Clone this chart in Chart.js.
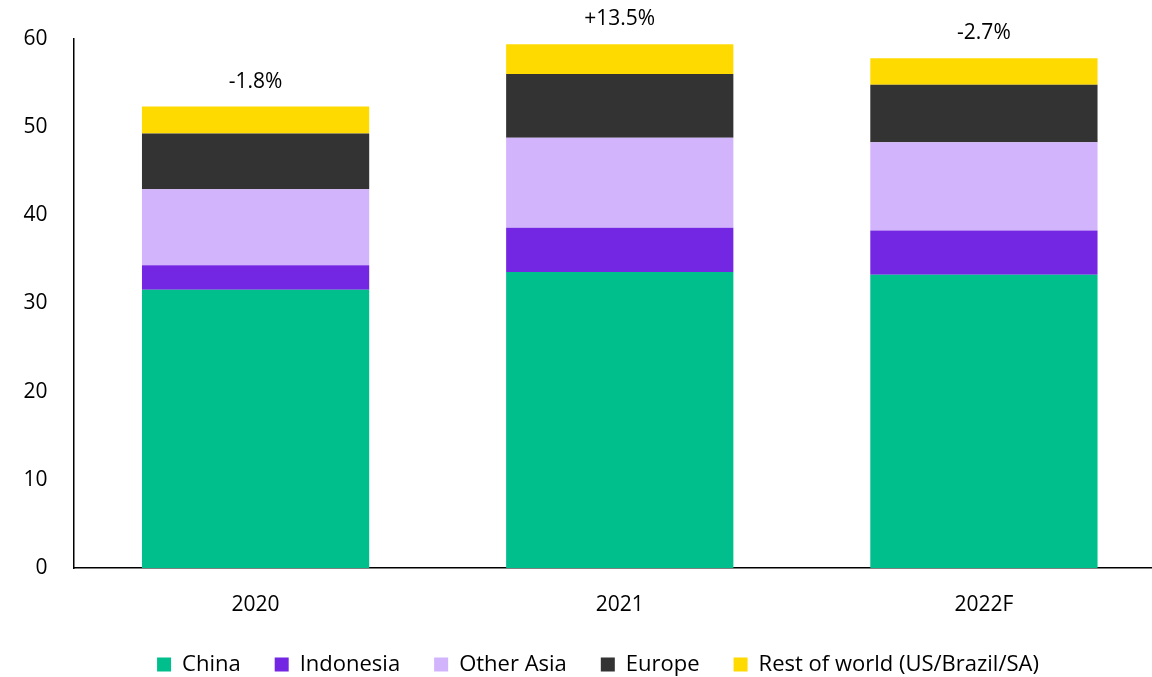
<!DOCTYPE html>
<html>
<head>
<meta charset="utf-8">
<script src="https://cdn.jsdelivr.net/npm/chart.js@4/dist/chart.umd.min.js"></script>
<style>
  html, body { margin: 0; padding: 0; background: #fff; overflow: hidden; }
  #wrap { width: 1166px; height: 677px; position: relative; }
</style>
</head>
<body>
<div id="wrap"><canvas id="chart"></canvas></div>
<script>
// data
const years = ['2020', '2021', '2022F'];
const china = [31.55, 33.56, 33.25];
const indonesia = [2.8, 5.02, 5.03];
const otherAsia = [8.62, 10.21, 10.02];
const europe = [6.3, 7.25, 6.5];
const restOfWorld = [3.07, 3.37, 3.02];
const growthLabels = ['-1.8%', '+13.5%', '-2.7%'];
const yTicks = [0, 10, 20, 30, 40, 50, 60];

const FONT = "'Open Sans', sans-serif";

// growth % written above each stacked bar
const growthPlugin = {
  id: 'growth',
  afterLayout(chart) {
    // legend in the reference sits a bit right of the canvas centre
    chart.legend.left += 15;
    chart.legend.right += 15;
  },
  afterDatasetsDraw(chart) {
    const ctx = chart.ctx;
    const x = chart.scales.x;
    const y = chart.scales.y;
    ctx.save();
    ctx.font = '21px ' + FONT;
    ctx.fillStyle = '#000';
    ctx.textAlign = 'center';
    ctx.textBaseline = 'middle';
    years.forEach((yr, i) => {
      let total = 0;
      chart.data.datasets.forEach(ds => { total += ds.data[i]; });
      ctx.fillText(growthLabels[i], x.getPixelForValue(i), y.getPixelForValue(total) - 25);
    });
    ctx.restore();
  }
};

new Chart(document.getElementById('chart'), {
  type: 'bar',
  data: {
    labels: years,
    datasets: [
      { label: 'China', data: china, backgroundColor: '#00BF8C' },
      { label: 'Indonesia', data: indonesia, backgroundColor: '#7427E3' },
      { label: 'Other Asia', data: otherAsia, backgroundColor: '#D2B4FD' },
      { label: 'Europe', data: europe, backgroundColor: '#333333' },
      { label: 'Rest of world (US/Brazil/SA)', data: restOfWorld, backgroundColor: '#FFDA00' }
    ]
  },
  options: {
    responsive: true,
    maintainAspectRatio: false,
    animation: false,
    layout: { padding: { top: 39, left: 0, right: 0, bottom: -8.5 } },
    datasets: { bar: { barPercentage: 0.624, categoryPercentage: 1 } },
    scales: {
      x: {
        stacked: true,
        afterFit: (scale) => { scale.height = 51.5; },
        grid: { display: false, drawTicks: false },
        border: { display: true, color: '#000', width: 1.5 },
        ticks: { color: '#000', padding: 24, font: { family: FONT, size: 21 } }
      },
      y: {
        stacked: true,
        min: 0,
        max: 60,
        afterBuildTicks: (scale) => { scale.ticks = yTicks.map(v => ({ value: v })); },
        afterFit: (scale) => { scale.width = 73.5; },
        grid: { display: false, drawTicks: false },
        border: { display: true, color: '#000', width: 1.5 },
        ticks: { color: '#000', padding: 26, font: { family: FONT, size: 21 } }
      }
    },
    plugins: {
      tooltip: { enabled: false },
      legend: {
        position: 'bottom',
        labels: {
          color: '#000',
          boxWidth: 14,
          boxHeight: 14,
          padding: 34,
          font: { family: FONT, size: 22 }
        }
      }
    }
  },
  plugins: [growthPlugin]
});
</script>
</body>
</html>
